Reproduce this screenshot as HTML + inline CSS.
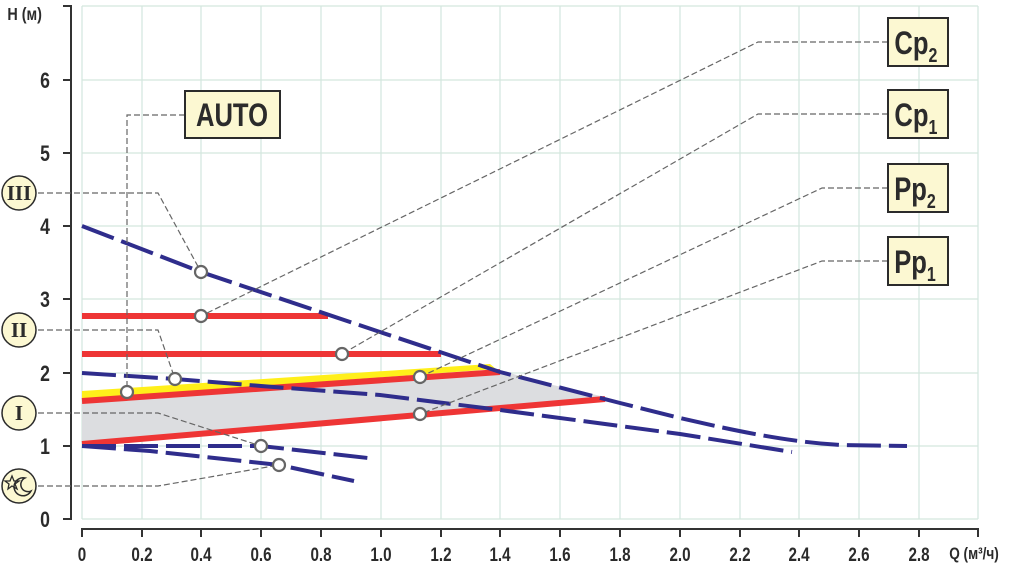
<!DOCTYPE html>
<html><head><meta charset="utf-8"><style>
html,body{margin:0;padding:0;background:#fff;}
svg{display:block;}
text{font-family:"Liberation Sans",sans-serif;font-weight:bold;fill:#2b2b2b;transform-box:fill-box;transform-origin:center;transform:scaleX(0.8);}
text.r{font-family:"Liberation Serif",serif;transform:none;}
</style></head><body>
<svg width="1016" height="567" viewBox="0 0 1016 567" xmlns="http://www.w3.org/2000/svg">
<g stroke="#d3e6de" stroke-width="1.2">
<line x1="82" y1="6" x2="82" y2="519"/><line x1="142" y1="6" x2="142" y2="519"/><line x1="201" y1="6" x2="201" y2="519"/><line x1="261" y1="6" x2="261" y2="519"/><line x1="321" y1="6" x2="321" y2="519"/><line x1="381" y1="6" x2="381" y2="519"/><line x1="441" y1="6" x2="441" y2="519"/><line x1="500" y1="6" x2="500" y2="519"/><line x1="560" y1="6" x2="560" y2="519"/><line x1="620" y1="6" x2="620" y2="519"/><line x1="680" y1="6" x2="680" y2="519"/><line x1="740" y1="6" x2="740" y2="519"/><line x1="799" y1="6" x2="799" y2="519"/><line x1="859" y1="6" x2="859" y2="519"/><line x1="919" y1="6" x2="919" y2="519"/><line x1="978" y1="6" x2="978" y2="519"/>
<line x1="82" y1="6" x2="978" y2="6"/><line x1="82" y1="80" x2="978" y2="80"/><line x1="82" y1="153" x2="978" y2="153"/><line x1="82" y1="226" x2="978" y2="226"/><line x1="82" y1="299" x2="978" y2="299"/><line x1="82" y1="373" x2="978" y2="373"/><line x1="82" y1="446" x2="978" y2="446"/><line x1="82" y1="519" x2="978" y2="519"/>
</g>
<g stroke="#333" stroke-width="2" fill="none">
<polyline points="63,6 71,6 71,519 63,519"/>
<line x1="63" y1="80" x2="71" y2="80"/><line x1="63" y1="153" x2="71" y2="153"/><line x1="63" y1="226" x2="71" y2="226"/><line x1="63" y1="299" x2="71" y2="299"/><line x1="63" y1="373" x2="71" y2="373"/><line x1="63" y1="446" x2="71" y2="446"/>
<polyline points="82,537 82,529 978,529 978,537"/>
<line x1="142" y1="529" x2="142" y2="537"/><line x1="201" y1="529" x2="201" y2="537"/><line x1="261" y1="529" x2="261" y2="537"/><line x1="321" y1="529" x2="321" y2="537"/><line x1="381" y1="529" x2="381" y2="537"/><line x1="441" y1="529" x2="441" y2="537"/><line x1="500" y1="529" x2="500" y2="537"/><line x1="560" y1="529" x2="560" y2="537"/><line x1="620" y1="529" x2="620" y2="537"/><line x1="680" y1="529" x2="680" y2="537"/><line x1="740" y1="529" x2="740" y2="537"/><line x1="799" y1="529" x2="799" y2="537"/><line x1="859" y1="529" x2="859" y2="537"/><line x1="919" y1="529" x2="919" y2="537"/>
</g>
<g font-size="22" text-anchor="middle">
<text x="45" y="88">6</text><text x="45" y="161">5</text><text x="45" y="234">4</text><text x="45" y="307">3</text><text x="45" y="381">2</text><text x="45" y="454">1</text><text x="45" y="527">0</text>
</g>
<g font-size="19" text-anchor="middle">
<text x="82" y="561">0</text><text x="142" y="561">0.2</text><text x="201" y="561">0.4</text><text x="261" y="561">0.6</text><text x="321" y="561">0.8</text><text x="381" y="561">1.0</text><text x="441" y="561">1.2</text><text x="500" y="561">1.4</text><text x="560" y="561">1.6</text><text x="620" y="561">1.8</text><text x="680" y="561">2.0</text><text x="740" y="561">2.2</text><text x="799" y="561">2.4</text><text x="859" y="561">2.6</text><text x="919" y="561">2.8</text>
</g>
<text x="3" y="20" font-size="18">H (м)</text>
<text x="943" y="559" font-size="17">Q (м³/ч)</text>
<polygon points="82,400 500,370 540,382 605,397 82,446" fill="#dcdde0"/>
<polygon points="82,391 490,364 496,369 82,399" fill="#ffef1a"/>
<g stroke="#ee3535" stroke-width="6" fill="none">
<line x1="82" y1="316" x2="328" y2="316"/>
<line x1="82" y1="354" x2="441" y2="354"/>
<line x1="82" y1="401" x2="500" y2="372"/>
<line x1="82" y1="444" x2="605" y2="399"/>
</g>
<g stroke="#2f2d8c" stroke-width="4" fill="none" stroke-dasharray="34,8">
<path d="M82,226 L201,272 L380,332 L500,372 L620,403 L680,418 C740,432 790,442 840,445 L907,446"/>
<polyline points="82,373 175,379 261,386 380,395 500,410 620,426 680,434 792,452"/>
<polyline points="82,446 261,446 368,458"/>
<polyline points="82,446 150,451 279,465 354,481"/>
</g>
<g stroke="#666" stroke-width="1.2" fill="none" stroke-dasharray="6,3">
<polyline points="185,115 127,115 127,392"/>
<polyline points="38,193 158,193 201,272"/>
<polyline points="38,330 158,330 175,379"/>
<polyline points="38,413 158,413 261,446"/>
<polyline points="38,486 158,486 279,465"/>
<polyline points="888,42 758,42 201,316"/>
<polyline points="888,114 758,114 342,354"/>
<polyline points="888,188 822,188 420,377"/>
<polyline points="888,261 822,261 420,414"/>
</g>
<g fill="#fff" stroke="#666" stroke-width="2.2">
<circle cx="127" cy="392" r="6"/><circle cx="175" cy="379" r="6"/><circle cx="201" cy="272" r="6"/><circle cx="201" cy="316" r="6"/><circle cx="342" cy="354" r="6"/><circle cx="420" cy="377" r="6"/><circle cx="420" cy="414" r="6"/><circle cx="261" cy="446" r="6"/><circle cx="279" cy="465" r="6"/>
</g>
<g fill="#fcf8d2" stroke="#2b2b2b" stroke-width="2">
<rect x="185" y="91" width="95" height="47"/>
<rect x="888" y="18" width="60" height="48"/>
<rect x="888" y="90" width="60" height="48"/>
<rect x="888" y="164" width="60" height="48"/>
<rect x="888" y="237" width="60" height="48"/>
</g>
<g stroke="#2b2b2b" stroke-width="1.5" fill="#fcf8d2">
<circle cx="19" cy="193" r="17"/><circle cx="19" cy="330" r="17"/><circle cx="19" cy="413" r="17"/><circle cx="19" cy="486" r="17"/>
</g>
<text x="232" y="126" font-size="32" text-anchor="middle">AUTO</text>
<g font-size="32">
<text x="889" y="54">Cp<tspan font-size="20" dy="8">2</tspan></text>
<text x="889" y="126">Cp<tspan font-size="20" dy="8">1</tspan></text>
<text x="889" y="200">Pp<tspan font-size="20" dy="8">2</tspan></text>
<text x="889" y="273">Pp<tspan font-size="20" dy="8">1</tspan></text>
</g>
<g font-size="21" text-anchor="middle">
<text class="r" x="19" y="200">III</text>
<text class="r" x="19" y="337">II</text>
<text class="r" x="19" y="420">I</text>
</g>
<path d="M12,476 l2,5 5,0 -4,3 2,5 -5,-3 -4,3 1,-5 -4,-3 5,0z" fill="none" stroke="#2b2b2b" stroke-width="1.3"/>
<path d="M25,478 a9,9 0 1 0 6,13 a7,7 0 1 1 -6,-13z" fill="none" stroke="#2b2b2b" stroke-width="1.5"/>
</svg>
</body></html>
